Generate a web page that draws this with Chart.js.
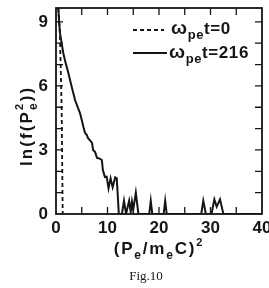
<!DOCTYPE html>
<html>
<head>
<meta charset="utf-8">
<script src="https://cdn.jsdelivr.net/npm/chart.js@4"></script>
<style>
  html,body{margin:0;padding:0;background:#fff;}
  #c{display:block;}
</style>
</head>
<body>
<canvas id="c" width="269" height="288"></canvas>
<script>
// omega_pe t = 0  (dashed)
let t0X = [0.45, 0.75, 0.95, 1.1, 1.2, 1.3];
let t0Y = [9.65, 8.5, 6.5, 4.9, 2.5, 0];

// omega_pe t = 216  (solid)
let t216X = [0.45, 0.6, 0.78, 1.1, 1.42, 1.9, 2.4, 2.9, 3.37, 3.7, 4.3, 4.66, 5.0, 5.3, 5.63, 6.0, 6.2, 6.6, 7.0, 7.2, 7.6, 7.96, 8.4, 8.9, 9.1, 9.5,
    9.84, 10.2, 10.6, 11.0, 11.5, 11.8, 12.2,
    12.8, 13.2, 13.6, 14.2, 14.5, 14.75, 15.0, 15.5, 16.0,
    18.1, 18.4, 18.7, 20.9, 21.2, 21.5,
    28.2, 28.6, 29.1, 30.2, 30.75, 31.2, 31.85, 32.5, 40];
let t216Y = [9.65, 9.0, 8.47, 8.0, 7.53, 7.05, 6.6, 6.1, 5.66, 5.34, 4.95, 4.73, 4.4, 4.1, 3.8, 3.7, 3.56, 3.45, 3.33, 3.0, 2.9, 2.63, 2.6, 2.53, 2.06, 1.73,
    1.75, 1.2, 1.67, 1.25, 1.72, 1.67, 0,
    0, 0.62, 0, 0.62, 0.1, 0.58, 0.2, 1.0, 0,
    0, 0.62, 0, 0, 0.62, 0,
    0, 0.62, 0, 0, 0.69, 0.34, 0.69, 0, 0];

let xTicks = [0, 10, 20, 30, 40];
let yTicks = [0, 3, 6, 9];
let xMinor = [5, 10, 15, 20, 25, 30, 35];
let yMinor = [1, 2, 3, 4, 5, 6, 7, 8, 9];

let pts = (xs, ys) => xs.map((x, i) => ({x: x, y: ys[i]}));

const INK = '#151515';
const FONT = '"Liberation Sans", Arial, sans-serif';

// draws text with sub/superscripts, parts = [[text, size, dy, noAdvance], ...]
// sp = extra space after each character (the figure's lettering is spaced out)
let drawRich = (ctx, parts, x, y, align, sp) => {
    sp = sp || 0;
    let charW = (ch, size) => {
        ctx.font = 'bold ' + size + 'px ' + FONT;
        return ctx.measureText(ch).width + sp;
    };
    let w = 0;
    parts.forEach(p => {
        if (!p[3]) [...p[0]].forEach(ch => { w += charW(ch, p[1]); });
    });
    w -= sp;
    let cx = align === 'center' ? x - w / 2 : x;
    parts.forEach(p => {
        let px = cx;
        [...p[0]].forEach(ch => {
            let cw = charW(ch, p[1]);
            ctx.fillText(ch, px, y + p[2]);
            px += cw;
        });
        if (!p[3]) cx = px;
    });
};

let framePlugin = {
    id: 'frame',
    afterDraw: (chart) => {
        let ctx = chart.ctx;
        let a = chart.chartArea;
        let xs = chart.scales.x, ys = chart.scales.y;
        ctx.save();
        ctx.strokeStyle = INK;
        ctx.fillStyle = INK;
        ctx.lineWidth = 1.8;
        ctx.strokeRect(a.left, a.top, a.right - a.left, a.bottom - a.top);

        // inward ticks on all four sides
        ctx.lineWidth = 1.3;
        ctx.beginPath();
        xMinor.forEach(v => {
            let px = xs.getPixelForValue(v);
            ctx.moveTo(px, a.bottom); ctx.lineTo(px, a.bottom - 7);
            ctx.moveTo(px, a.top); ctx.lineTo(px, a.top + 7);
        });
        yMinor.forEach(v => {
            let py = ys.getPixelForValue(v);
            ctx.moveTo(a.left, py); ctx.lineTo(a.left + 7, py);
            ctx.moveTo(a.right, py); ctx.lineTo(a.right - 7, py);
        });
        ctx.stroke();

        ctx.textBaseline = 'alphabetic';
        ctx.textAlign = 'left';

        // x title
        drawRich(ctx, [['(P', 17, 0], ['e', 12, 5], ['/m', 17, 0], ['e', 12, 5], ['C)', 17, 0], ['2', 11, -8]],
            158, 254, 'center', 1.8);

        // y title (rotated)
        ctx.save();
        ctx.translate(32, 127);
        ctx.rotate(-Math.PI / 2);
        drawRich(ctx, [['ln(f(P', 17, 0], ['2', 11, -9, true], ['e', 12, 5], ['))', 17, 0]], 0, 0, 'center', 2.1);
        ctx.restore();

        // legend
        ctx.lineWidth = 1.8;
        ctx.setLineDash([4, 3]);
        ctx.beginPath(); ctx.moveTo(133, 30); ctx.lineTo(164, 30); ctx.stroke();
        ctx.setLineDash([]);
        ctx.beginPath(); ctx.moveTo(133, 53); ctx.lineTo(167, 53); ctx.stroke();
        drawRich(ctx, [['ω', 19, 0], ['pe', 13, 5], ['t=0', 17, 0]], 171, 34, 'left', 0.6);
        drawRich(ctx, [['ω', 19, 0], ['pe', 13, 5], ['t=216', 17, 0]], 169, 58, 'left', 0.6);

        // caption
        ctx.font = '13px "Liberation Serif", serif';
        ctx.textAlign = 'center';
        ctx.fillText('Fig.10', 146, 280);
        ctx.restore();
    }
};

let chart = new Chart(document.getElementById('c').getContext('2d'), {
    type: 'line',
    data: {
        datasets: [{
            label: 't=0',
            data: pts(t0X, t0Y),
            borderColor: INK,
            borderWidth: 1.8,
            borderDash: [4, 3],
            pointRadius: 0,
            tension: 0
        }, {
            label: 't=216',
            data: pts(t216X, t216Y),
            borderColor: INK,
            borderWidth: 2,
            pointRadius: 0,
            tension: 0
        }]
    },
    options: {
        responsive: false,
        animation: false,
        layout: {padding: {left: 0, right: 7, top: 8, bottom: 0}},
        plugins: {legend: {display: false}, tooltip: {enabled: false}},
        scales: {
            x: {
                type: 'linear',
                min: 0, max: 40,
                grid: {display: false, drawTicks: false},
                border: {display: false},
                ticks: {
                    stepSize: 10, maxRotation: 0, padding: 4,
                    color: INK, font: {family: FONT, size: 17, weight: 'bold'},
                    callback: v => xTicks.includes(v) ? v : ''
                },
                afterFit: s => { s.height = 74; s.paddingLeft = 0; s.paddingRight = 0; }
            },
            y: {
                min: 0, max: 9.65,
                grid: {display: false, drawTicks: false},
                border: {display: false},
                ticks: {
                    stepSize: 3, includeBounds: false, padding: 8,
                    color: INK, font: {family: FONT, size: 17, weight: 'bold'},
                    callback: v => yTicks.includes(v) ? v : ''
                },
                afterFit: s => { s.width = 56; s.paddingTop = 0; s.paddingBottom = 0; }
            }
        }
    },
    plugins: [framePlugin]
});
</script>
</body>
</html>
